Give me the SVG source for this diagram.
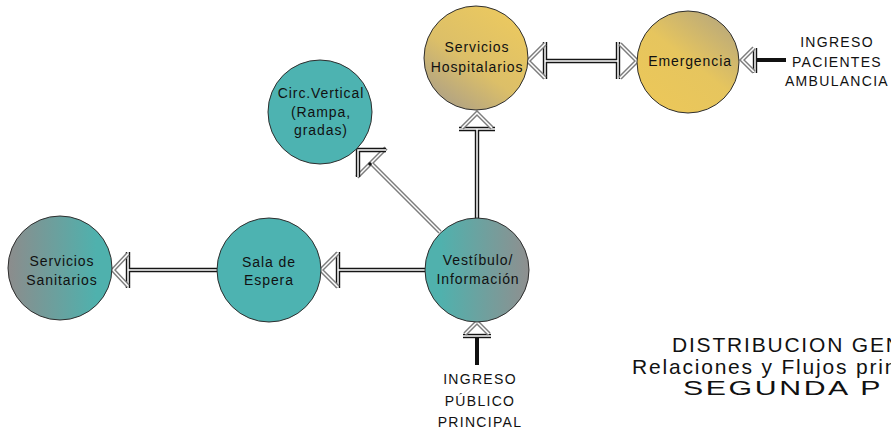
<svg xmlns="http://www.w3.org/2000/svg" width="891" height="430" viewBox="0 0 891 430">
  <style>
    .node { stroke: #2e2e2e; stroke-width: 1; }
    .lbl { font-family: "Liberation Sans", Arial, sans-serif; font-size: 14px; fill: #111; text-anchor: middle; letter-spacing: 0.9px; }
    .cap { font-family: "Liberation Sans", Arial, sans-serif; font-size: 14px; fill: #111; text-anchor: middle; letter-spacing: 1.3px; }
    .title { font-family: "Liberation Sans", Arial, sans-serif; font-size: 21px; fill: #111; letter-spacing: 1.8px; }
    /* double-ruled strokes: dark outer band with a white core */
    .dk { stroke: #151515; stroke-width: 4.4; fill: none; }
    .gy { stroke: #7d7d7d; stroke-width: 4.4; fill: none; }
    .core { stroke: #fff; stroke-width: 1.5; fill: none; }
    .solid { stroke: #111; stroke-width: 4; fill: none; }
  </style>
  <defs>
    <linearGradient id="gSan" x1="0" y1="0" x2="1" y2="0">
      <stop offset="0" stop-color="#8c8c8c"/>
      <stop offset="0.85" stop-color="#4fb1ad"/>
    </linearGradient>
    <linearGradient id="gVes" x1="0" y1="0" x2="1" y2="0">
      <stop offset="0.15" stop-color="#50b1ad"/>
      <stop offset="1" stop-color="#8f8f8f"/>
    </linearGradient>
    <linearGradient id="gHos" x1="0.8" y1="0.1" x2="0.2" y2="0.95">
      <stop offset="0" stop-color="#eac860"/>
      <stop offset="0.55" stop-color="#dcbf68"/>
      <stop offset="1" stop-color="#b0a284"/>
    </linearGradient>
    <linearGradient id="gEme" x1="0.9" y1="0" x2="0.2" y2="0.9">
      <stop offset="0" stop-color="#b3a57f"/>
      <stop offset="0.55" stop-color="#e6c55e"/>
      <stop offset="1" stop-color="#ebc75a"/>
    </linearGradient>
  </defs>

  <!-- connectors -->
  <g id="connectors">
    <!-- Vestibulo -> Sala de Espera -->
    <path class="dk" d="M425 270 H338 M338 252 V288"/>
    <path class="core" d="M425 270 H338 M338 252 V288"/>
    <path class="gy" d="M338 253 L321 270 L338 287"/>
    <path class="core" d="M338 253 L321 270 L338 287"/>

    <!-- Sala de Espera -> Servicios Sanitarios -->
    <path class="dk" d="M217 270 H128 M128 252 V288"/>
    <path class="core" d="M217 270 H128 M128 252 V288"/>
    <path class="gy" d="M128 254 L113 270 L128 286"/>
    <path class="core" d="M128 254 L113 270 L128 286"/>

    <!-- Vestibulo -> Servicios Hospitalarios -->
    <path class="dk" d="M477 219 V129 M459 129 H495"/>
    <path class="core" d="M477 219 V129 M459 129 H495"/>
    <path class="gy" d="M462 128 L477 113 L492 128"/>
    <path class="core" d="M462 128 L477 113 L492 128"/>

    <!-- Vestibulo -> Circ. Vertical -->
    <path class="gy" d="M440 232 L371 163 M357 177 L386 148"/>
    <path class="core" d="M440 232 L371 163 M357 177 L386 148"/>
    <path class="dk" d="M386 150 H358 V177"/>
    <path class="core" d="M386 150 H358 V177"/>
    <circle cx="370" cy="164" r="1.8" fill="#111"/>

    <!-- Servicios Hospitalarios <-> Emergencia -->
    <path class="dk" d="M545 61 H618 M545 42 V79 M618 42 V79"/>
    <path class="core" d="M545 61 H618 M545 42 V79 M618 42 V79"/>
    <path class="gy" d="M545 44 L528 61 L545 78 M620 44 L637 61 L620 78"/>
    <path class="core" d="M545 44 L528 61 L545 78 M620 44 L637 61 L620 78"/>

    <!-- Ingreso pacientes ambulancia -> Emergencia -->
    <path class="solid" d="M786 60 H755"/>
    <path class="dk" d="M755 48 V73"/>
    <path class="core" d="M755 48 V73"/>
    <path class="gy" d="M754 48 L742 60 L754 72"/>
    <path class="core" d="M754 48 L742 60 L754 72"/>

    <!-- Ingreso publico principal -> Vestibulo -->
    <path class="solid" d="M477 365 V336"/>
    <path class="dk" d="M463 336 H491"/>
    <path class="core" d="M463 336 H491"/>
    <path class="gy" d="M465 334 L477 322 L489 334"/>
    <path class="core" d="M465 334 L477 322 L489 334"/>
  </g>

  <!-- nodes -->
  <g id="servicios-hospitalarios">
    <circle class="node" cx="476" cy="58" r="52" fill="url(#gHos)"/>
    <text class="lbl" x="477" y="52">Servicios</text>
    <text class="lbl" x="477" y="72">Hospitalarios</text>
  </g>

  <g id="emergencia">
    <circle class="node" cx="688" cy="62" r="51" fill="url(#gEme)"/>
    <text class="lbl" x="690" y="66">Emergencia</text>
  </g>

  <g id="circ-vertical">
    <circle class="node" cx="320" cy="112" r="52" fill="#4db3b1"/>
    <text class="lbl" x="321" y="98">Circ.Vertical</text>
    <text class="lbl" x="321" y="117">(Rampa,</text>
    <text class="lbl" x="321" y="135">gradas)</text>
  </g>

  <g id="servicios-sanitarios">
    <circle class="node" cx="60" cy="268" r="52" fill="url(#gSan)"/>
    <text class="lbl" x="62" y="266">Servicios</text>
    <text class="lbl" x="62" y="285">Sanitarios</text>
  </g>

  <g id="sala-de-espera">
    <circle class="node" cx="269" cy="270" r="52" fill="#4db3b1"/>
    <text class="lbl" x="269" y="267">Sala de</text>
    <text class="lbl" x="269" y="285">Espera</text>
  </g>

  <g id="vestibulo">
    <circle class="node" cx="477" cy="270" r="52" fill="url(#gVes)"/>
    <text class="lbl" x="478" y="265">Vestíbulo/</text>
    <text class="lbl" x="478" y="284">Información</text>
  </g>

  <!-- entrance captions -->
  <g id="ingreso-ambulancia">
    <text class="cap" x="837" y="47">INGRESO</text>
    <text class="cap" x="837" y="66.5">PACIENTES</text>
    <text class="cap" x="837" y="86">AMBULANCIA</text>
  </g>

  <g id="ingreso-publico">
    <text class="cap" x="480" y="384">INGRESO</text>
    <text class="cap" x="480" y="406">PÚBLICO</text>
    <text class="cap" x="480" y="427">PRINCIPAL</text>
  </g>

  <!-- sheet title (runs past the right edge of the sheet) -->
  <g id="titulo">
    <text class="title" x="672" y="352">DISTRIBUCION GEN</text>
    <text class="title" x="632" y="374">Relaciones y Flujos prin</text>
    <text class="title" x="683" y="395" textLength="200" lengthAdjust="spacingAndGlyphs">SEGUNDA P</text>
  </g>
</svg>
